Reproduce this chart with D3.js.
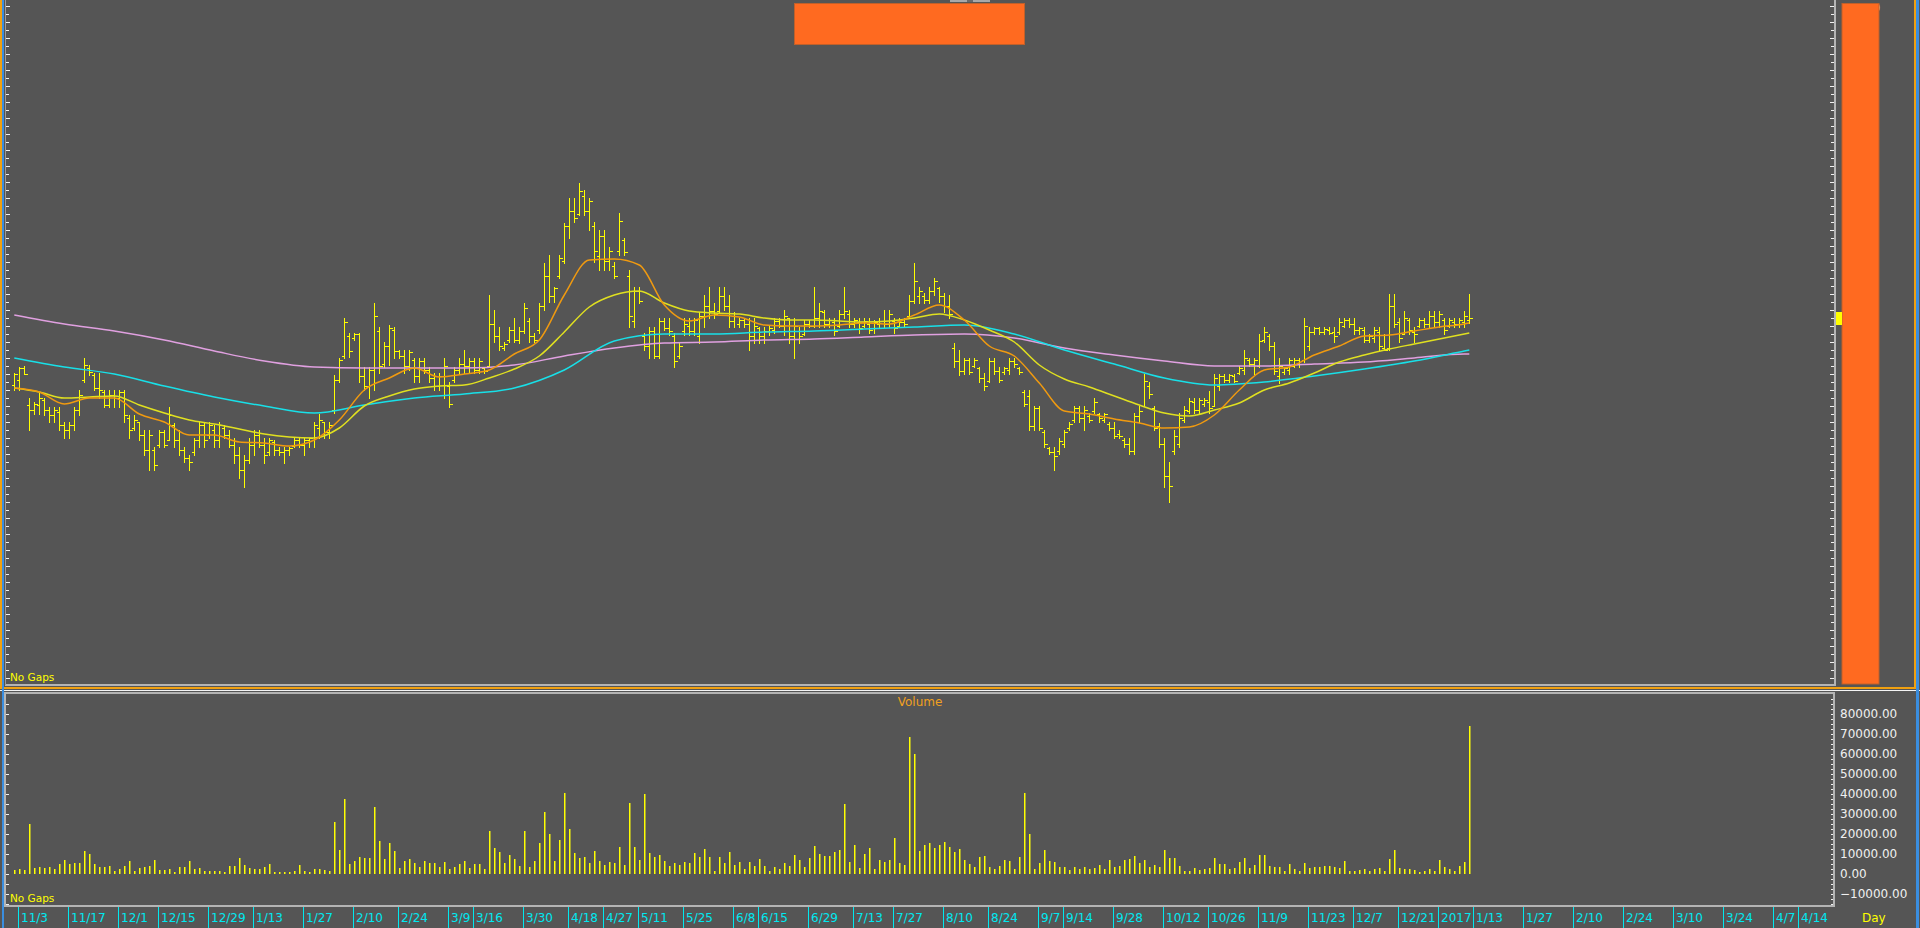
<!DOCTYPE html>
<html>
<head>
<meta charset="utf-8">
<script src="https://cdn.jsdelivr.net/npm/d3@7"></script>
<style>
  html, body { margin: 0; padding: 0; background: #555555; overflow: hidden; }
  svg { display: block; }
  text { font-family: "DejaVu Sans", Verdana, sans-serif; }
</style>
</head>
<body>
<svg id="chart" width="1920" height="928"></svg>
<script>
'use strict';

// daily bars, 11/2 .. 1/12 (one value per trading day)
const highs = [
  8.33,8.39,8.40,8.08,8.04,8.14,8.08,7.99,7.99,7.99, 7.84,7.84,7.99,8.16,8.48,8.41,8.33,8.33,8.16,8.16,
  8.16,8.16,8.16,7.91,7.91,7.84,7.76,7.76,7.59,7.76, 7.76,7.99,7.83,7.76,7.59,7.51,7.68,7.84,7.84,7.84,
  7.81,7.84,7.81,7.76,7.68,7.59,7.51,7.68,7.76,7.76, 7.68,7.68,7.66,7.59,7.59,7.59,7.68,7.68,7.68,7.68,
  7.84,7.92,7.84,7.84,8.31,8.48,8.88,8.73,8.73,8.73, 8.39,8.39,9.03,8.79,8.64,8.81,8.79,8.56,8.56,8.56,
  8.48,8.48,8.48,8.39,8.33,8.33,8.48,8.24,8.39,8.48, 8.56,8.48,8.48,8.48,8.39,9.11,8.96,8.79,8.64,8.79,
  8.88,8.79,9.03,8.88,8.73,9.03,9.43,9.51,9.19,9.51, 9.83,10.08,10.08,10.23,10.16,10.08,9.84,9.76,9.76,9.59,
  9.44,9.93,9.68,9.36,9.19,9.19,8.73,8.79,8.79,8.88, 8.88,8.88,8.73,8.63,8.88,8.88,8.88,8.94,9.11,9.19,
  9.03,9.19,9.19,9.11,8.94,8.88,8.88,8.88,8.88,8.79, 8.79,8.80,8.88,8.88,8.96,8.88,8.88,8.79,8.86,8.86,
  9.19,9.03,8.96,8.88,8.88,8.96,9.19,8.96,8.88,8.88, 8.88,8.88,8.86,8.88,8.96,8.96,8.88,8.88,8.88,9.11,
  9.43,9.19,9.13,9.19,9.28,9.19,9.13,9.11,8.63,8.56, 8.48,8.48,8.48,8.39,8.33,8.48,8.48,8.39,8.39,8.48,
  8.48,8.39,8.16,8.16,8.00,8.00,7.76,7.59,7.59,7.68, 7.76,7.84,8.00,8.00,8.00,7.93,8.08,7.93,7.93,7.84,
  7.84,7.76,7.68,7.68,7.93,8.00,8.32,8.24,8.00,7.83, 7.68,7.44,7.76,7.93,8.00,8.08,8.08,8.08,8.08,8.15,
  8.32,8.32,8.32,8.32,8.32,8.40,8.56,8.48,8.48,8.72, 8.79,8.72,8.64,8.48,8.39,8.48,8.48,8.48,8.88,8.79,
  8.79,8.79,8.79,8.79,8.79,8.88,8.88,8.88,8.88,8.79, 8.79,8.72,8.79,8.79,8.72,9.12,9.12,8.88,8.95,8.88,
  8.79,8.88,8.88,8.95,8.95,8.95,8.88,8.88,8.88,8.88, 8.95,9.12
];
const lows = [
  8.16,8.16,8.32,7.76,7.92,7.92,7.91,7.84,7.84,7.76, 7.68,7.68,7.76,7.91,8.24,8.31,8.16,8.08,7.99,7.99,
  7.99,7.99,7.84,7.68,7.76,7.66,7.51,7.36,7.36,7.59, 7.59,7.66,7.59,7.51,7.44,7.36,7.51,7.59,7.59,7.68,
  7.59,7.59,7.68,7.59,7.43,7.28,7.19,7.43,7.51,7.59, 7.43,7.51,7.51,7.51,7.43,7.51,7.59,7.59,7.51,7.59,
  7.59,7.68,7.68,7.68,7.93,8.24,8.48,8.49,8.66,8.24, 8.16,8.08,8.16,8.33,8.39,8.41,8.48,8.48,8.33,8.36,
  8.24,8.24,8.33,8.24,8.16,8.16,8.08,7.99,8.24,8.33, 8.33,8.33,8.33,8.33,8.33,8.39,8.64,8.56,8.56,8.64,
  8.64,8.63,8.73,8.64,8.64,8.73,8.96,9.04,9.04,9.28, 9.43,9.68,9.84,9.91,9.91,9.76,9.44,9.36,9.36,9.36,
  9.28,9.51,9.51,8.79,8.79,9.03,8.56,8.48,8.48,8.48, 8.76,8.71,8.39,8.48,8.71,8.71,8.71,8.63,8.79,8.88,
  8.88,8.94,8.96,8.79,8.79,8.79,8.79,8.56,8.63,8.63, 8.63,8.71,8.73,8.79,8.71,8.63,8.48,8.63,8.71,8.79,
  8.79,8.79,8.79,8.79,8.71,8.79,8.88,8.79,8.79,8.73, 8.79,8.73,8.73,8.79,8.79,8.79,8.73,8.79,8.79,8.88,
  9.03,9.03,9.03,9.03,9.11,9.04,8.94,8.88,8.39,8.31, 8.32,8.32,8.39,8.24,8.16,8.24,8.32,8.24,8.32,8.32,
  8.39,8.32,8.00,7.76,7.76,7.76,7.59,7.52,7.36,7.52, 7.59,7.76,7.84,7.84,7.76,7.84,7.93,7.84,7.84,7.76,
  7.68,7.68,7.59,7.52,7.52,7.84,8.00,8.08,7.76,7.59, 7.19,7.04,7.52,7.59,7.84,7.93,7.93,7.93,8.00,7.93,
  8.00,8.16,8.24,8.24,8.24,8.32,8.32,8.40,8.32,8.39, 8.64,8.56,8.32,8.23,8.32,8.32,8.39,8.39,8.44,8.56,
  8.72,8.72,8.72,8.72,8.64,8.72,8.79,8.79,8.72,8.72, 8.64,8.64,8.64,8.56,8.56,8.56,8.79,8.64,8.72,8.72,
  8.64,8.79,8.79,8.79,8.79,8.79,8.72,8.79,8.79,8.79, 8.79,8.83
];
const opens = [
  8.21,8.26,8.38,8.01,7.96,8.01,8.06,7.96,7.91,7.94, 7.81,7.76,7.81,7.96,8.26,8.38,8.31,8.18,8.14,8.01,
  8.11,8.08,8.14,7.88,7.78,7.84,7.71,7.56,7.56,7.61, 7.74,7.66,7.81,7.66,7.56,7.48,7.54,7.66,7.81,7.71,
  7.76,7.66,7.78,7.71,7.61,7.51,7.36,7.46,7.61,7.71, 7.61,7.54,7.64,7.56,7.54,7.56,7.60,7.66,7.61,7.66,
  7.66,7.78,7.84,7.74,7.96,8.26,8.50,8.70,8.68,8.72, 8.30,8.20,8.36,8.75,8.42,8.60,8.76,8.55,8.50,8.40,
  8.46,8.30,8.45,8.36,8.28,8.20,8.30,8.20,8.26,8.36, 8.42,8.40,8.45,8.36,8.38,8.40,8.82,8.70,8.58,8.66,
  8.76,8.66,8.75,8.85,8.70,8.76,9.00,9.30,9.10,9.30, 9.45,9.80,9.95,9.92,10.10,9.95,9.80,9.50,9.70,9.45,
  9.40,9.55,9.66,9.30,8.85,9.15,8.70,8.60,8.75,8.50, 8.85,8.78,8.70,8.50,8.75,8.80,8.75,8.70,8.90,9.00,
  8.95,8.95,9.10,9.00,8.85,8.82,8.86,8.82,8.70,8.78, 8.70,8.75,8.76,8.85,8.80,8.88,8.70,8.75,8.72,8.82,
  8.80,8.88,8.94,8.82,8.84,8.80,8.92,8.92,8.82,8.84, 8.80,8.82,8.78,8.82,8.85,8.82,8.85,8.80,8.84,8.90,
  9.05,9.10,9.10,9.06,9.15,9.18,9.10,9.00,8.58,8.45, 8.35,8.46,8.40,8.38,8.28,8.25,8.45,8.35,8.34,8.36,
  8.45,8.38,8.14,8.10,7.80,7.98,7.74,7.58,7.54,7.55, 7.62,7.78,7.86,7.98,7.88,7.90,7.95,7.92,7.86,7.82,
  7.78,7.72,7.66,7.62,7.55,7.90,8.00,8.20,7.98,7.80, 7.62,7.30,7.55,7.62,7.86,7.95,8.04,7.96,8.02,8.04,
  8.00,8.20,8.30,8.26,8.30,8.33,8.36,8.46,8.42,8.40, 8.66,8.70,8.60,8.30,8.34,8.36,8.40,8.46,8.46,8.60,
  8.74,8.78,8.74,8.76,8.74,8.74,8.80,8.86,8.82,8.76, 8.76,8.66,8.68,8.74,8.58,8.58,9.00,8.84,8.72,8.86,
  8.74,8.80,8.86,8.82,8.90,8.84,8.86,8.80,8.84,8.82, 8.84,8.86
];
const closes = [
  8.32,8.38,8.32,7.96,8.02,8.08,7.96,7.91,7.96,7.81, 7.76,7.81,7.96,8.11,8.41,8.34,8.18,8.16,8.01,8.11,
  8.08,8.14,7.91,7.76,7.86,7.71,7.56,7.71,7.41,7.74, 7.61,7.91,7.66,7.56,7.48,7.44,7.66,7.81,7.66,7.81,
  7.66,7.81,7.71,7.61,7.51,7.36,7.46,7.61,7.71,7.61, 7.51,7.66,7.56,7.54,7.56,7.58,7.66,7.61,7.66,7.68,
  7.81,7.86,7.74,7.81,8.26,8.46,8.84,8.55,8.72,8.30, 8.20,8.36,8.90,8.40,8.60,8.78,8.55,8.50,8.40,8.54,
  8.30,8.45,8.36,8.28,8.20,8.30,8.40,8.02,8.36,8.42, 8.40,8.45,8.36,8.45,8.35,8.82,8.70,8.60,8.62,8.76,
  8.66,8.75,8.98,8.70,8.66,9.00,9.30,9.10,9.18,9.48, 9.80,9.95,9.88,10.15,9.95,10.05,9.55,9.70,9.45,9.55,
  9.30,9.85,9.54,8.90,9.15,9.05,8.60,8.75,8.50,8.85, 8.78,8.75,8.45,8.60,8.82,8.75,8.86,8.90,9.00,8.95,
  8.92,9.10,9.00,8.85,8.90,8.86,8.82,8.70,8.80,8.70, 8.75,8.78,8.85,8.80,8.90,8.70,8.80,8.70,8.82,8.80,
  8.88,8.95,8.82,8.86,8.75,8.92,8.95,8.82,8.86,8.78, 8.85,8.76,8.84,8.85,8.82,8.92,8.78,8.84,8.82,9.05,
  9.25,9.15,9.06,9.15,9.25,9.10,9.00,8.92,8.45,8.35, 8.46,8.34,8.46,8.28,8.20,8.45,8.35,8.26,8.38,8.45,
  8.42,8.34,8.02,7.80,7.98,7.78,7.62,7.54,7.50,7.65, 7.74,7.82,7.98,7.88,7.96,7.86,8.04,7.88,7.92,7.78,
  7.70,7.70,7.62,7.55,7.90,7.95,8.25,8.12,7.78,7.62, 7.30,7.20,7.70,7.88,7.96,8.05,7.96,8.06,8.06,7.98,
  8.28,8.30,8.26,8.31,8.25,8.38,8.48,8.42,8.46,8.65, 8.74,8.60,8.35,8.40,8.38,8.46,8.46,8.42,8.80,8.74,
  8.78,8.74,8.77,8.73,8.70,8.84,8.86,8.82,8.76,8.78, 8.66,8.70,8.76,8.60,8.56,9.00,8.82,8.68,8.88,8.76,
  8.72,8.86,8.82,8.90,8.84,8.92,8.76,8.86,8.82,8.86, 8.90,8.88
];
// volume in thousands
const volumes = [
  2.0,2.7,2.0,24.8,3.0,3.3,3.0,3.3,2.7,5.0, 7.0,5.0,5.7,5.7,11.7,10.0,5.0,3.3,3.3,4.0,
  1.3,2.3,4.0,6.3,1.7,3.0,3.3,4.0,7.0,2.0, 2.0,2.3,1.0,3.3,3.3,6.3,2.3,3.0,1.3,1.3,
  1.3,1.7,1.0,4.0,4.0,8.0,4.3,3.0,2.3,2.3, 3.3,5.0,1.0,1.0,1.0,1.0,1.7,4.3,1.7,1.0,
  2.3,2.3,2.0,1.7,26.0,12.0,37.3,5.0,6.7,8.7, 8.0,8.0,33.5,16.3,7.7,15.7,11.3,3.0,6.7,7.3,
  5.3,3.3,6.3,5.3,5.3,3.7,6.0,2.7,3.3,5.0, 6.7,3.0,5.0,5.0,2.3,21.3,13.0,11.0,5.7,9.7,
  7.7,4.0,21.3,3.7,6.3,15.5,31.0,19.8,6.3,16.8, 40.3,22.5,10.7,8.0,8.3,5.7,11.3,6.3,4.7,6.0,
  5.3,13.3,4.7,35.7,13.7,7.0,39.8,10.7,8.7,9.7, 6.5,4.0,5.5,4.7,6.2,5.7,10.3,8.7,12.5,8.3,
  1.3,8.7,5.7,11.0,4.3,5.8,2.3,6.0,3.8,7.5, 4.0,1.7,3.3,2.7,5.7,4.0,9.7,7.0,3.3,7.8,
  14.0,10.0,9.0,9.0,11.2,12.0,35.2,6.0,14.5,3.2, 10.2,13.2,2.7,7.2,6.2,6.8,17.8,5.7,4.7,68.5,
  60.0,11.5,14.5,15.3,13.2,14.3,16.0,13.5,11.0,12.3, 6.8,5.0,3.5,8.7,9.0,3.5,2.5,4.0,7.0,6.3,
  2.5,8.7,40.3,20.2,2.5,5.5,11.8,6.3,6.2,3.5, 3.5,2.2,3.3,2.3,3.3,2.5,2.8,4.3,2.7,6.8,
  3.7,4.0,7.0,7.5,9.2,5.7,6.8,3.5,4.7,3.5, 12.0,8.0,8.0,4.0,1.5,1.7,2.8,2.0,2.5,3.0,
  8.0,5.2,5.2,2.3,2.8,6.0,8.0,2.8,4.3,9.7, 9.7,4.0,3.7,3.3,1.5,5.0,2.7,1.7,5.5,3.0,
  3.3,3.7,4.0,4.0,3.3,3.0,6.7,1.3,1.7,2.0, 2.3,1.7,2.7,3.0,1.7,7.7,12.0,3.0,2.3,2.3,
  2.0,1.0,1.7,2.3,1.3,7.0,3.7,2.3,1.7,4.0, 6.0,74.0
];

const ma10 = [
  8.18,8.14,8.02,8.08,8.08,7.92,7.84,7.71,7.71,7.64, 7.63,7.60,7.66,7.86,8.16,8.28,8.38,8.29,8.32,8.36,
  8.52,8.66,9.11,9.46,9.47,9.41,9.01,8.85,8.91,8.89, 8.81,8.80,8.80,8.81,8.83,8.82,8.91,9.01,8.86,8.60,
  8.50,8.23,7.95,7.92,7.87,7.83,7.78,7.79,7.91,8.16, 8.36,8.39,8.51,8.60,8.70,8.71,8.75,8.79,8.82,8.83
];
const ma20 = [
  8.18,8.14,8.08,8.09,8.10,8.01,7.93,7.86,7.82,7.77, 7.72,7.69,7.68,7.78,8.00,8.10,8.17,8.20,8.21,8.28,
  8.37,8.50,8.74,8.99,9.11,9.15,9.03,8.95,8.93,8.92, 8.88,8.86,8.86,8.85,8.84,8.85,8.88,8.92,8.86,8.76,
  8.64,8.41,8.27,8.19,8.10,8.01,7.93,7.90,7.96,8.03, 8.16,8.23,8.33,8.44,8.51,8.57,8.62,8.67,8.72,8.73
];
const ma60 = [
  8.48,8.39,8.32,8.20,8.09,8.00,7.93,8.01,8.08,8.12, 8.18,8.36,8.65,8.72,8.72,8.74,8.75,8.77,8.79,8.81,
  8.72,8.56,8.42,8.28,8.21,8.24,8.30,8.37,8.45,8.55, 8.56
];
const ma120 = [
  8.91,8.82,8.75,8.66,8.55,8.45,8.39,8.38,8.38,8.38, 8.41,8.50,8.58,8.63,8.64,8.66,8.67,8.69,8.71,8.72,
  8.68,8.58,8.51,8.45,8.40,8.40,8.42,8.44,8.48,8.52, 8.52
];
const lastIndex = highs.length - 1;
const shortIdx = d3.range(0, lastIndex, 5).concat([lastIndex]);
const longIdx = d3.range(0, lastIndex, 10).concat([lastIndex]);

// date axis labels and the trading-day slot each one marks
const dateLabels = ["11/3","11/17","12/1","12/15","12/29","1/13","1/27","2/10","2/24","3/9","3/16","3/30",
  "4/18","4/27","5/11","5/25","6/8","6/15","6/29","7/13","7/27","8/10","8/24","9/7","9/14","9/28",
  "10/12","10/26","11/9","11/23","12/7","12/21","2017","1/13","1/27","2/10","2/24","3/10","3/24","4/7","4/14"];
const dateSlots = [1,11,21,29,39,48,58,68,77,87,92,102,111,118,125,134,144,149,159,168,176,186,195,205,210,220,
  230,239,249,259,268,277,285,292,302,312,322,332,342,352,357];

const volTicks = [-10000,0,10000,20000,30000,40000,50000,60000,70000,80000];

// ---- layout ----
const W = 1920, H = 928;
const mainBottom = 684.5, plotRight = 1835;
const volTop = 692.5, volBottom = 906;

const svg = d3.select('#chart');
svg.append('rect').attr('width', W).attr('height', H).attr('fill', '#555555');

const x = d3.scaleLinear().domain([0, 291]).range([14.3, 1469.3]);
const y = d3.scaleLinear().domain([12, 5.2]).range([6, 686]);
const yVol = d3.scaleLinear().domain([-10000, 80000]).range([894, 714]);

const px = v => Math.round(v) + 0.5;

// ---- price bars ----
const bars = d3.range(highs.length).map(i => ({
  i: i, h: highs[i], l: lows[i], o: opens[i], c: closes[i]
}));

svg.append('g')
  .attr('fill', 'none')
  .attr('stroke', '#ffff00')
  .attr('stroke-width', 1)
  .attr('shape-rendering', 'crispEdges')
  .selectAll('path')
  .data(bars)
  .enter().append('path')
  .attr('d', function (d) {
    const cx = px(x(d.i));
    return 'M' + cx + ',' + Math.round(y(d.h)) + 'V' + (Math.round(y(d.l)) + 1) +
      'M' + (cx - 3) + ',' + px(y(d.o)) + 'H' + cx +
      'M' + cx + ',' + px(y(d.c)) + 'H' + (cx + 3);
  });

// ---- moving averages ----
const maLine = d3.line()
  .x(d => x(d[0]))
  .y(d => y(d[1]))
  .curve(d3.curveMonotoneX);

const maSpecs = [
  { idx: longIdx, vals: ma120, color: '#e0a0e0' },
  { idx: longIdx, vals: ma60, color: '#18e0e8' },
  { idx: shortIdx, vals: ma20, color: '#e0e020' },
  { idx: shortIdx, vals: ma10, color: '#f09a10' }
];
maSpecs.forEach(function (s) {
  svg.append('path')
    .datum(s.idx.map((k, j) => [k, s.vals[j]]))
    .attr('fill', 'none')
    .attr('stroke', s.color)
    .attr('stroke-width', 1.5)
    .attr('d', maLine);
});

// ---- volume bars ----
const volG = svg.append('g').attr('shape-rendering', 'crispEdges');
volG.selectAll('rect.v1')
  .data(volumes)
  .enter().append('rect')
  .attr('class', 'v1')
  .attr('x', (d, i) => Math.round(x(i)))
  .attr('y', d => Math.round(yVol(d * 1000)))
  .attr('width', 1)
  .attr('height', d => Math.max(1, Math.round(yVol(0)) - Math.round(yVol(d * 1000))))
  .attr('fill', '#ffff00');
volG.selectAll('rect.v2')
  .data(volumes)
  .enter().append('rect')
  .attr('class', 'v2')
  .attr('x', (d, i) => Math.round(x(i)) + 1)
  .attr('y', d => Math.round(yVol(d * 1000)))
  .attr('width', 1)
  .attr('height', d => Math.max(1, Math.round(yVol(0)) - Math.round(yVol(d * 1000))))
  .attr('fill', '#a8a830');

// ---- panel frames ----
const frame = svg.append('g').attr('fill', 'none').attr('shape-rendering', 'crispEdges');
// main panel border (bottom + right)
frame.append('path').attr('d', 'M5,' + mainBottom + 'H' + plotRight + 'V0')
  .attr('stroke', '#b4b4b4').attr('stroke-width', 2);
frame.append('path').attr('d', 'M5.5,0V' + mainBottom).attr('stroke', '#9a9a9a');
// volume panel border
frame.append('rect')
  .attr('x', 5).attr('y', volTop).attr('width', 1828.5).attr('height', volBottom - volTop)
  .attr('stroke', '#b4b4b4').attr('stroke-width', 2);
// orange frame of the price pane, blue window frame
frame.append('path').attr('d', 'M1,0V688H1915V0').attr('stroke', '#f0a010').attr('stroke-width', 2);
frame.append('path').attr('d', 'M0,690.5H1920').attr('stroke', '#f4f4f4').attr('stroke-width', 1);
frame.append('path').attr('d', 'M3,0V928').attr('stroke', '#3a8ee0').attr('stroke-width', 2);
frame.append('path').attr('d', 'M1917.5,0V928').attr('stroke', '#3a8ee0').attr('stroke-width', 3);

// ---- tick marks ----
const priceTicks = d3.range(0, 85).map(k => 12 - k * 0.08);
function tickStyle(g) {
  g.select('.domain').remove();
  g.selectAll('.tick line').attr('stroke', '#f0f0f0').attr('shape-rendering', 'crispEdges');
}
svg.append('g').attr('transform', 'translate(6,0)')
  .call(d3.axisRight(y).tickValues(priceTicks.filter((d, k) => k % 2 === 0)).tickSize(4).tickFormat(''))
  .call(tickStyle);
svg.append('g').attr('transform', 'translate(6,0)')
  .call(d3.axisRight(y).tickValues(priceTicks.filter((d, k) => k % 2 === 1)).tickSize(3).tickFormat(''))
  .call(tickStyle);
svg.append('g').attr('transform', 'translate(' + (plotRight - 1) + ',0)')
  .call(d3.axisLeft(y).tickValues(priceTicks.filter((d, k) => k % 2 === 0)).tickSize(4).tickFormat(''))
  .call(tickStyle);
svg.append('g').attr('transform', 'translate(' + (plotRight - 1) + ',0)')
  .call(d3.axisLeft(y).tickValues(priceTicks.filter((d, k) => k % 2 === 1)).tickSize(3).tickFormat(''))
  .call(tickStyle);

const volMinor = d3.range(-15000, 90001, 5000).filter(v => yVol(v) > volTop + 2 && yVol(v) < volBottom - 1);
svg.append('g').attr('transform', 'translate(6,0)')
  .call(d3.axisRight(yVol).tickValues(volMinor).tickSize(3).tickFormat(''))
  .call(tickStyle);
const volFine = d3.range(-15000, 90001, 2500).filter(v => yVol(v) > volTop + 2 && yVol(v) < volBottom - 1);
svg.append('g').attr('transform', 'translate(1833,0)')
  .call(d3.axisLeft(yVol).tickValues(volFine).tickSize(2).tickFormat(''))
  .call(tickStyle);

// volume tick labels
svg.append('g').selectAll('text')
  .data(volTicks)
  .enter().append('text')
  .attr('x', 1840)
  .attr('y', d => yVol(d))
  .attr('dy', '0.35em')
  .attr('font-size', 12)
  .attr('fill', '#f0f0f0')
  .text(d => d3.format('.2f')(d));

// ---- date axis ----
const dateG = svg.append('g');
dateG.selectAll('line')
  .data(dateSlots)
  .enter().append('line')
  .attr('x1', d => px(x(d) - 1)).attr('x2', d => px(x(d) - 1))
  .attr('y1', volBottom + 1).attr('y2', H)
  .attr('stroke', '#00e8f0')
  .attr('shape-rendering', 'crispEdges');
dateG.selectAll('text')
  .data(dateSlots)
  .enter().append('text')
  .attr('x', d => Math.round(x(d) - 1) + 3)
  .attr('y', 922)
  .attr('font-size', 12)
  .attr('fill', '#00e8f0')
  .text((d, i) => dateLabels[i]);
svg.append('text').attr('x', 1862).attr('y', 922).attr('font-size', 12)
  .attr('fill', '#ffff00').text('Day');

// ---- labels ----
svg.append('text').attr('x', 10).attr('y', 681).attr('font-size', 10.5)
  .attr('fill', '#ffff00').text('No Gaps');
svg.append('text').attr('x', 10).attr('y', 902).attr('font-size', 10.5)
  .attr('fill', '#ffff00').text('No Gaps');
svg.append('text').attr('x', 920).attr('y', 706).attr('font-size', 12)
  .attr('text-anchor', 'middle').attr('fill', '#f0a020').text('Volume');

// ---- right side scale bar and markers ----
svg.append('text').attr('x', 1846).attr('y', 12).attr('font-size', 12)
  .attr('fill', '#f0f0f0').text('12.00');
svg.append('rect').attr('x', 1842).attr('y', 3.5).attr('width', 37).attr('height', mainBottom - 4)
  .attr('fill', '#ff6a20').attr('stroke', '#c0602a').attr('stroke-width', 1);
svg.append('rect').attr('x', 1836).attr('y', Math.round(y(closes[lastIndex])) - 6)
  .attr('width', 6).attr('height', 13).attr('fill', '#ffff00');

// top caption box and tab
svg.append('rect').attr('x', 794.5).attr('y', 3.5).attr('width', 230).attr('height', 41)
  .attr('fill', '#ff6a20').attr('stroke', '#c0602a').attr('stroke-width', 1);
svg.append('rect').attr('x', 950).attr('y', 0).attr('width', 40).attr('height', 2).attr('fill', '#a8a8a8');
svg.append('rect').attr('x', 967).attr('y', 0).attr('width', 6).attr('height', 2).attr('fill', '#6a6a6a');
</script>
</body>
</html>
